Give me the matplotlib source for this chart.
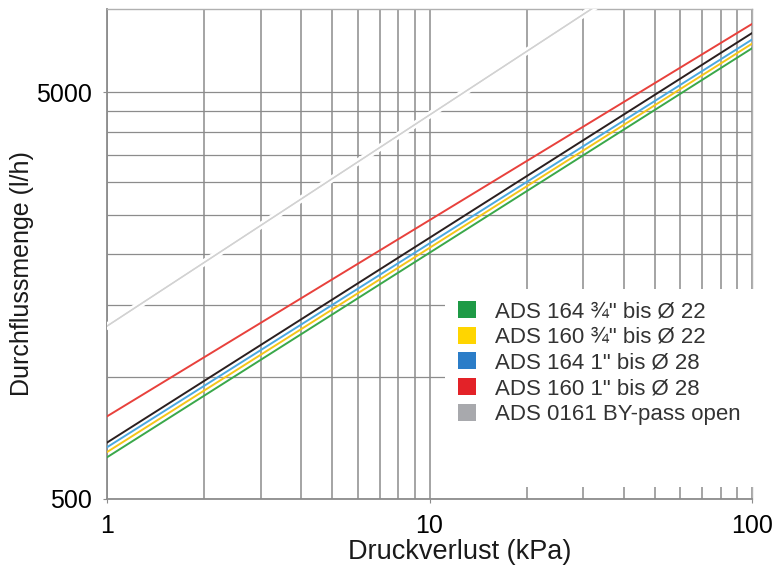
import matplotlib
matplotlib.use("Agg")
import matplotlib.pyplot as plt
import matplotlib.patheffects as pe
from matplotlib.patches import Patch, Rectangle
from matplotlib.ticker import FixedLocator, NullFormatter, FixedFormatter

plt.rcParams["font.family"] = ["Liberation Sans", "DejaVu Sans"]

# pressure loss (kPa) at the two ends of each straight log-log curve
dp = [1, 100]
# flow (l/h) read at dp = 1 and dp = 100
flow_red = [798, 7350]
flow_black = [688, 6980]
flow_blue = [670, 6730]
flow_yellow = [652, 6575]
flow_green = [633, 6405]
# bypass line: (1, 1330) running up past the top edge
flow_bypass = [1330, 14500]

legend_labels = ['ADS 164 ¾" bis Ø 22', 'ADS 160 ¾" bis Ø 22',
                 'ADS 164 1" bis Ø 28', 'ADS 160 1" bis Ø 28',
                 'ADS 0161 BY-pass open']
legend_colors = ["#1e9a46", "#ffd500", "#2b7dc8", "#e32228", "#a8a9ad"]

y_major = [500, 5000]
y_minor = [1000, 1500, 2000, 2500, 3000, 3500, 4000, 4500]
x_major = [1, 10, 100]
x_minor = [2, 3, 4, 5, 6, 7, 8, 9, 20, 30, 40, 50, 60, 70, 80, 90]

fig = plt.figure(figsize=(7.79, 5.68), dpi=100)
ax = fig.add_axes([107 / 779, 69 / 568, 645 / 779, 490 / 568])
ax.set_xscale("log")
ax.set_yscale("log")
ax.set_xlim(1, 100)
ax.set_ylim(500, 8000)

ax.xaxis.set_major_locator(FixedLocator(x_major))
ax.xaxis.set_minor_locator(FixedLocator(x_minor))
ax.xaxis.set_major_formatter(FixedFormatter(["1", "10", "100"]))
ax.xaxis.set_minor_formatter(NullFormatter())
ax.yaxis.set_major_locator(FixedLocator(y_major))
ax.yaxis.set_minor_locator(FixedLocator(y_minor))
ax.yaxis.set_major_formatter(FixedFormatter(["500", "5000"]))
ax.yaxis.set_minor_formatter(NullFormatter())

grid_c = "#8c8c8c"
ax.grid(True, axis="x", which="both", color=grid_c, lw=1.1)
ax.grid(True, axis="y", which="both", color=grid_c, lw=0.9)
ax.tick_params(which="both", length=3, color=grid_c, labelsize=18, pad=8)
ax.tick_params(which="minor", length=0)
for side in ["left", "bottom"]:
    ax.spines[side].set_color(grid_c)
    ax.spines[side].set_linewidth(1.3)
for side in ["top", "right"]:
    ax.spines[side].set_color("#b0b0b0")
    ax.spines[side].set_linewidth(1.0)

# white box behind the legend that hides the grid there
ax.add_patch(Rectangle((0.524, 0.0245), 0.49, 0.405, transform=ax.transAxes,
                       facecolor="white", edgecolor="none", zorder=2.6,
                       clip_on=False))

ax.plot(dp, flow_bypass, color="#d2d2d2", lw=1.0, zorder=3,
        path_effects=[pe.withStroke(linewidth=5, foreground="white"), pe.Normal()])
ax.plot(dp, flow_green, color="#3aa84a", lw=1.4, zorder=3)
ax.plot(dp, flow_yellow, color="#f5c518", lw=1.4, zorder=3)
ax.plot(dp, flow_blue, color="#4aa8e0", lw=1.4, zorder=3)
ax.plot(dp, flow_black, color="#2a1f1f", lw=1.4, zorder=3)
ax.plot(dp, flow_red, color="#e8413c", lw=1.4, zorder=3)

handles = [Patch(facecolor=c, edgecolor="none") for c in legend_colors]
leg = ax.legend(handles, legend_labels, loc="upper left",
                bbox_to_anchor=(0.544, 0.404), frameon=False, fontsize=16,
                handlelength=0.8, handleheight=0.8, handletextpad=0.85,
                labelspacing=0.2, borderpad=0, borderaxespad=0)
leg.set_zorder(4)
for t in leg.get_texts():
    t.set_color("#333333")

ax.set_xlabel("Druckverlust (kPa)", fontsize=19.5, color="#1a1a1a")
ax.xaxis.set_label_coords(0.547, -0.082)
ax.set_ylabel("Durchflussmenge (l/h)", fontsize=18, color="#1a1a1a")
ax.yaxis.set_label_coords(-0.113, 0.46)

fig.savefig("out.png", dpi=100)
